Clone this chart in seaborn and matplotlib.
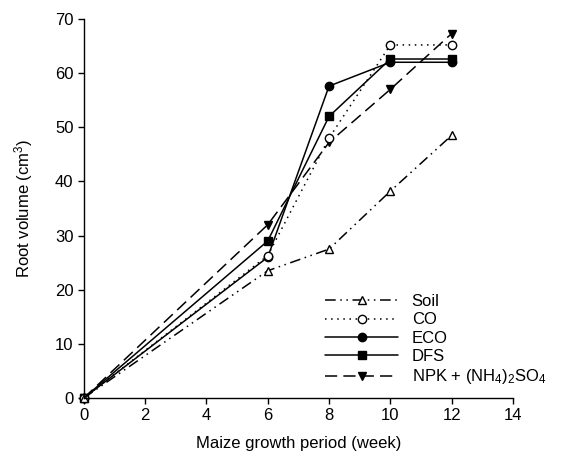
import matplotlib
matplotlib.use("Agg")
import matplotlib.pyplot as plt
import seaborn as sns
import pandas as pd

weeks = [0, 6, 8, 10, 12]
soil = [0, 23.5, 27.5, 38.2, 48.5]
co = [0, 26.3, 48.0, 65.2, 65.2]
eco = [0, 26.0, 57.6, 62.0, 62.0]
dfs = [0, 29.0, 52.0, 62.6, 62.6]
npk = [0, 32.0, 47.2, 57.0, 67.3]
labels = ["Soil", "CO", "ECO", "DFS", "NPK + (NH$_4$)$_2$SO$_4$"]
x_ticks = [0, 2, 4, 6, 8, 10, 12, 14]
y_ticks = [0, 10, 20, 30, 40, 50, 60, 70]

sns.set_style("ticks")
plt.rcParams['font.family'] = ['Liberation Sans', 'DejaVu Sans']
plt.rcParams['mathtext.fontset'] = 'custom'
plt.rcParams['mathtext.rm'] = 'Liberation Sans'
plt.rcParams['mathtext.it'] = 'Liberation Sans'
plt.rcParams['mathtext.default'] = 'regular'
plt.rcParams['text.color'] = 'black'
plt.rcParams['axes.labelcolor'] = 'black'
plt.rcParams['xtick.color'] = 'black'
plt.rcParams['ytick.color'] = 'black'

df = pd.DataFrame({"week": weeks * 5,
                   "value": soil + co + eco + dfs + npk,
                   "series": sum([[l] * len(weeks) for l in labels], [])})

fig = plt.figure(figsize=(5.78, 4.62), dpi=100)
ax = fig.add_axes([0.145, 0.1385, 0.7425, 0.8205])

styles = {
    labels[0]: dict(marker="^", mfc="white", dashes=(7, 3, 1, 3, 1, 3), z=2.5),
    labels[1]: dict(marker="o", mfc="white", dashes=(1, 3), z=2.4),
    labels[2]: dict(marker="o", mfc="black", dashes=None, z=2.2),
    labels[3]: dict(marker="s", mfc="black", dashes=None, z=2.1),
    labels[4]: dict(marker="v", mfc="black", dashes=(8, 4), z=2.0),
}

for lab in labels:
    st = styles[lab]
    sub = df[df.series == lab]
    sns.lineplot(x="week", y="value", data=sub, ax=ax, color="black", lw=1.1,
                 marker=st["marker"], markerfacecolor=st["mfc"], markeredgecolor="black",
                 markersize=6, label=lab, clip_on=False, markeredgewidth=1.0,
                 zorder=st["z"])
    l = ax.lines[-1]
    if st["dashes"] is not None:
        l.set_dashes(st["dashes"])

ax.set_xlim(0, 14)
ax.set_ylim(0, 70)
ax.set_xticks(x_ticks)
ax.set_yticks(y_ticks)
ax.tick_params(direction="out", length=4, width=1, labelsize=12, colors="black")
for s in ["left", "bottom"]:
    ax.spines[s].set_color("black")
    ax.spines[s].set_linewidth(1)
ax.spines["top"].set_visible(False)
ax.spines["right"].set_visible(False)
ax.set_xlabel("Maize growth period (week)", fontsize=12, labelpad=9)
ax.set_ylabel("Root volume (cm$^3$)", fontsize=12, labelpad=14)

leg = ax.legend(loc="lower left", bbox_to_anchor=(0.535, 0.0), frameon=False,
                handlelength=4.4, fontsize=12, labelspacing=0.2, handletextpad=0.8,
                borderaxespad=0.3)
for t in leg.get_texts():
    t.set_color("black")

fig.savefig("out.png", dpi=100)
